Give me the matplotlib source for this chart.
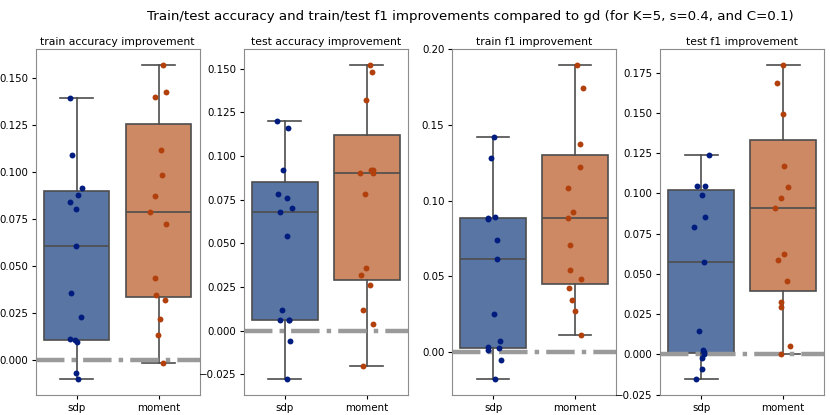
import numpy as np
import matplotlib
matplotlib.use("Agg")
import matplotlib.pyplot as plt

methods = ["sdp", "moment"]
titles = ["train accuracy improvement", "test accuracy improvement",
          "train f1 improvement", "test f1 improvement"]

# per-instance improvements
train_acc_sdp = [0.1394, 0.1089, 0.0913, 0.0878, 0.0839, 0.0803, 0.0603, 0.0355,
                 0.0229, 0.0108, 0.0105, 0.0096, -0.0071, -0.0105]
train_acc_moment = [0.1569, 0.1424, 0.1399, 0.1113, 0.0984, 0.0869, 0.0784, 0.0723,
                    0.0434, 0.0344, 0.0319, 0.0218, 0.0129, -0.0016]
test_acc_sdp = [0.1202, 0.1162, 0.0922, 0.0781, 0.0761, 0.0700, 0.0681, 0.0540,
                0.0120, 0.0061, 0.0061, 0.0061, -0.0059, -0.0279]
test_acc_moment = [0.1523, 0.1483, 0.1323, 0.0922, 0.0922, 0.0903, 0.0903, 0.0781,
                   0.0361, 0.0321, 0.0260, 0.0120, 0.0040, -0.0200]
train_f1_sdp = [0.1419, 0.1280, 0.0890, 0.0883, 0.0877, 0.0742, 0.0615, 0.0251,
                0.0070, 0.0033, 0.0024, 0.0013, -0.0051, -0.0181]
train_f1_moment = [0.1899, 0.1742, 0.1377, 0.1220, 0.1086, 0.0925, 0.0885, 0.0709,
                   0.0540, 0.0485, 0.0421, 0.0346, 0.0271, 0.0112]
test_f1_sdp = [0.1237, 0.1049, 0.1049, 0.0993, 0.0856, 0.0790, 0.0573, 0.0143,
               0.0027, 0.0015, 0.0004, -0.0025, -0.0089, -0.0155]
test_f1_moment = [0.1800, 0.1684, 0.1492, 0.1173, 0.1038, 0.0970, 0.0912, 0.0623,
                  0.0585, 0.0457, 0.0327, 0.0292, 0.0054, 0.0000]

# box statistics as drawn: (whisker low, q1, median, q3, whisker high)
box_train_acc = [(-0.0105, 0.0106, 0.0603, 0.0895, 0.1394),
                 (-0.0016, 0.0332, 0.0784, 0.1255, 0.1569)]
box_test_acc = [(-0.0279, 0.0061, 0.0681, 0.0851, 0.1202),
                (-0.0200, 0.0292, 0.0901, 0.1120, 0.1523)]
box_train_f1 = [(-0.0181, 0.0029, 0.0615, 0.0888, 0.1419),
                (0.0112, 0.0452, 0.0885, 0.1300, 0.1899)]
box_test_f1 = [(-0.0155, 0.0008, 0.0573, 0.1020, 0.1237),
               (0.0000, 0.0393, 0.0912, 0.1330, 0.1800)]

points = [(train_acc_sdp, train_acc_moment), (test_acc_sdp, test_acc_moment),
          (train_f1_sdp, train_f1_moment), (test_f1_sdp, test_f1_moment)]
boxes = [box_train_acc, box_test_acc, box_train_f1, box_test_f1]

box_colors = ["#5975a4", "#cc8963"]
dot_colors = ["#001c7f", "#b1400d"]
edge = "#4d4d4d"

rng = np.random.default_rng(3)

fig, axes = plt.subplots(1, 4, figsize=(8.3, 4.15), dpi=100)
fig.subplots_adjust(left=0.043, right=0.993, top=0.882, bottom=0.048, wspace=0.27)

for ax, title, pts, bx in zip(axes, titles, points, boxes):
    stats = []
    for name, (lo, q1, med, q3, hi) in zip(methods, bx):
        stats.append({"label": name, "whislo": lo, "q1": q1, "med": med,
                      "q3": q3, "whishi": hi, "fliers": []})
    art = ax.bxp(stats, positions=[0, 1], widths=0.8, patch_artist=True,
                 showfliers=False, capwidths=0.4,
                 boxprops=dict(edgecolor=edge, linewidth=1.2),
                 medianprops=dict(color=edge, linewidth=1.2),
                 whiskerprops=dict(color=edge, linewidth=1.2),
                 capprops=dict(color=edge, linewidth=1.2))
    for patch, c in zip(art["boxes"], box_colors):
        patch.set_facecolor(c)
        patch.set_zorder(2)

    ax.axhline(0, color="#9a9a9a", lw=3.2, ls="-.", zorder=2.5)

    for i, vals in enumerate(pts):
        xs = i + rng.uniform(-0.1, 0.1, len(vals))
        ax.scatter(xs, vals, s=18, color=dot_colors[i], zorder=3, linewidths=0)

    ax.set_xlim(-0.5, 1.5)
    ax.set_xticks([0, 1])
    ax.set_xticklabels(methods)
    ax.set_title(title, fontsize=7.8, pad=3)
    ax.tick_params(labelsize=7.4, length=3, pad=2.5)
    for sp in ax.spines.values():
        sp.set_color("#8c8c8c")

fig.suptitle("Train/test accuracy and train/test f1 improvements compared to gd "
             "(for K=5, s=0.4, and C=0.1)", fontsize=9.6, x=0.567, y=0.975)

fig.savefig("out.png", dpi=100)
